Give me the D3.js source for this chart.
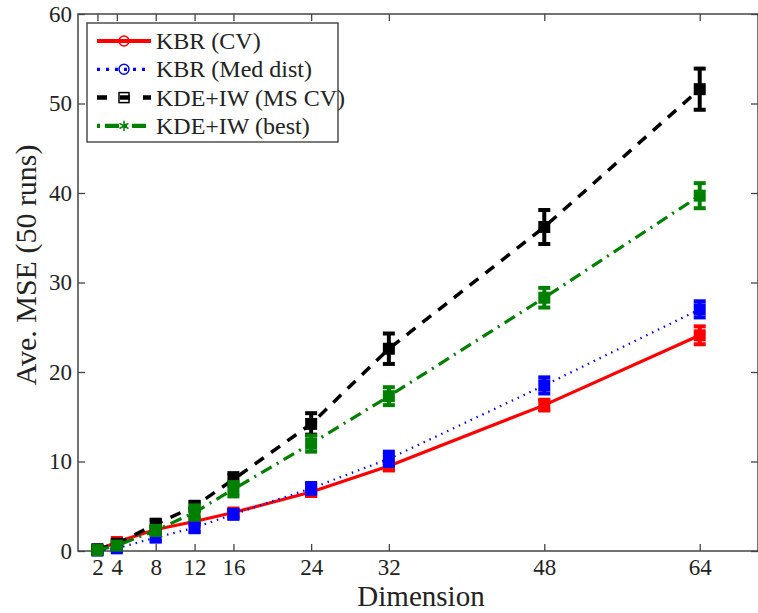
<!DOCTYPE html>
<html>
<head>
<meta charset="utf-8">
<script src="https://cdn.jsdelivr.net/npm/d3@7"></script>
<style>
  body { margin: 0; background: #fff; }
  text { fill: #222; }
</style>
</head>
<body>
<svg id="root" width="758" height="613"></svg>
<script>
const dims = [2, 4, 8, 12, 16, 24, 32, 48, 64];
const kbrCV = [0.1, 1.0, 2.4, 3.3, 4.3, 6.6, 9.5, 16.3, 24.1];
const kbrCVErr = [0.1, 0.3, 0.3, 0.3, 0.3, 0.4, 0.5, 0.6, 1.0];
const kbrMed = [0.05, 0.3, 1.5, 2.6, 4.1, 7.0, 10.3, 18.5, 27.0];
const kbrMedErr = [0.1, 0.3, 0.4, 0.5, 0.5, 0.6, 0.8, 0.9, 0.9];
const kdeMS = [0.2, 0.8, 3.0, 5.0, 8.0, 14.2, 22.6, 36.2, 51.6];
const kdeMSErr = [0.1, 0.3, 0.5, 0.5, 0.7, 1.2, 1.7, 1.9, 2.3];
const kdeBest = [0.1, 0.6, 2.3, 4.3, 6.9, 12.0, 17.3, 28.3, 39.7];
const kdeBestErr = [0.1, 0.3, 0.5, 0.8, 0.8, 0.9, 1.0, 1.1, 1.4];
const yTicks = [0, 10, 20, 30, 40, 50, 60];

const series = [
  { name: "KBR (CV)", values: kbrCV, err: kbrCVErr, color: "#ff0000", dash: null, width: 3.2, marker: "circle" },
  { name: "KBR (Med dist)", values: kbrMed, err: kbrMedErr, color: "#0000ff", dash: "1.5,5", width: 2.2, marker: "circle" },
  { name: "KDE+IW (MS CV)", values: kdeMS, err: kdeMSErr, color: "#000000", dash: "11,9", width: 3.5, marker: "square" },
  { name: "KDE+IW (best)", values: kdeBest, err: kdeBestErr, color: "#008000", dash: "12,6,2,6", width: 3.2, marker: "star" },
];

const SERIF = "'Liberation Serif', 'Times New Roman', serif";
const svg = d3.select("#root");
const margin = { top: 14, left: 78, right: 0, bottom: 62 };
const W = 758, H = 613;

const x = d3.scaleLinear().domain([0, 70]).range([margin.left, W - margin.right]);
const y = d3.scaleLinear().domain([0, 60]).range([H - margin.bottom, margin.top]);

// frame
svg.append("rect")
  .attr("x", x(0)).attr("y", y(60))
  .attr("width", x(70) - x(0)).attr("height", y(0) - y(60))
  .attr("fill", "none").attr("stroke", "#444").attr("stroke-width", 1.5);

// axes
const axisStyle = (g) => {
  g.attr("font-family", SERIF).attr("font-size", 23);
  g.select(".domain").remove();
  g.selectAll(".tick line").attr("stroke", "#444").attr("stroke-width", 1.3);
  g.selectAll("text").attr("fill", "#222");
};
svg.append("g").attr("transform", `translate(0,${y(0)})`)
  .call(d3.axisBottom(x).tickValues(dims).tickSize(-7).tickPadding(8))
  .call(axisStyle);
svg.append("g").attr("transform", `translate(0,${y(60)})`)
  .call(d3.axisTop(x).tickValues(dims).tickSize(-7).tickFormat(""))
  .call(axisStyle);
svg.append("g").attr("transform", `translate(${x(0)},0)`)
  .call(d3.axisLeft(y).tickValues(yTicks).tickSize(-7).tickPadding(6))
  .call(axisStyle);
svg.append("g").attr("transform", `translate(${x(70)},0)`)
  .call(d3.axisRight(y).tickValues(yTicks).tickSize(-7).tickFormat(""))
  .call(axisStyle);

// axis titles
svg.append("text").attr("x", 421).attr("y", 606).attr("text-anchor", "middle")
  .attr("font-family", SERIF).attr("font-size", 29).text("Dimension");
svg.append("text").attr("transform", "translate(36,265) rotate(-90)").attr("text-anchor", "middle")
  .attr("font-family", SERIF).attr("font-size", 30).text("Ave. MSE (50 runs)");

const line = d3.line().x((d) => x(d[0])).y((d) => y(d[1]));

const drawMarker = (g, s, cx, cy, r) => {
  if (s.marker === "circle") {
    g.append("circle").attr("cx", cx).attr("cy", cy).attr("r", r)
      .attr("fill", "none").attr("stroke", s.color).attr("stroke-width", 1.5);
  } else if (s.marker === "square") {
    g.append("rect").attr("x", cx - r).attr("y", cy - r).attr("width", 2 * r).attr("height", 2 * r)
      .attr("fill", "none").attr("stroke", s.color).attr("stroke-width", 1.5);
  } else {
    g.append("path").attr("d", d3.symbol(d3.symbolAsterisk, r * r * 3)())
      .attr("transform", `translate(${cx},${cy})`)
      .attr("stroke", s.color).attr("stroke-width", 1.5);
  }
};

series.forEach((s) => {
  const pts = dims.map((d, i) => [d, s.values[i]]);
  const g = svg.append("g");
  g.append("path").datum(pts).attr("d", line)
    .attr("fill", "none").attr("stroke", s.color).attr("stroke-width", s.width)
    .attr("stroke-dasharray", s.dash);
  // error bars
  dims.forEach((d, i) => {
    const cx = x(d), lo = y(s.values[i] - s.err[i]), hi = y(s.values[i] + s.err[i]);
    g.append("line").attr("x1", cx).attr("x2", cx).attr("y1", lo).attr("y2", hi)
      .attr("stroke", s.color).attr("stroke-width", 4);
    [lo, hi].forEach((yy) => {
      g.append("line").attr("x1", cx - 6).attr("x2", cx + 6).attr("y1", yy).attr("y2", yy)
        .attr("stroke", s.color).attr("stroke-width", 4);
    });
    g.append("rect").attr("x", cx - 6).attr("y", y(s.values[i]) - 6).attr("width", 12).attr("height", 12)
      .attr("fill", s.color);
  });
});

// legend
const lg = svg.append("g");
lg.append("rect").attr("x", 87).attr("y", 23).attr("width", 251).attr("height", 119)
  .attr("fill", "#fff").attr("stroke", "#333").attr("stroke-width", 1.3);
const legendDash = ["", "3,6", "10,13", "3,5,14,5"];
series.forEach((s, i) => {
  const ly = 41 + i * 28.3;
  lg.append("line").attr("x1", 97).attr("x2", 151).attr("y1", ly).attr("y2", ly)
    .attr("stroke", s.color).attr("stroke-width", s.width + 1).attr("stroke-dasharray", legendDash[i] || null);
  drawMarker(lg, s, 124, ly, 5);
  lg.append("text").attr("x", 156).attr("y", ly + 8)
    .attr("font-family", SERIF).attr("font-size", 24).text(s.name);
});
</script>
</body>
</html>
